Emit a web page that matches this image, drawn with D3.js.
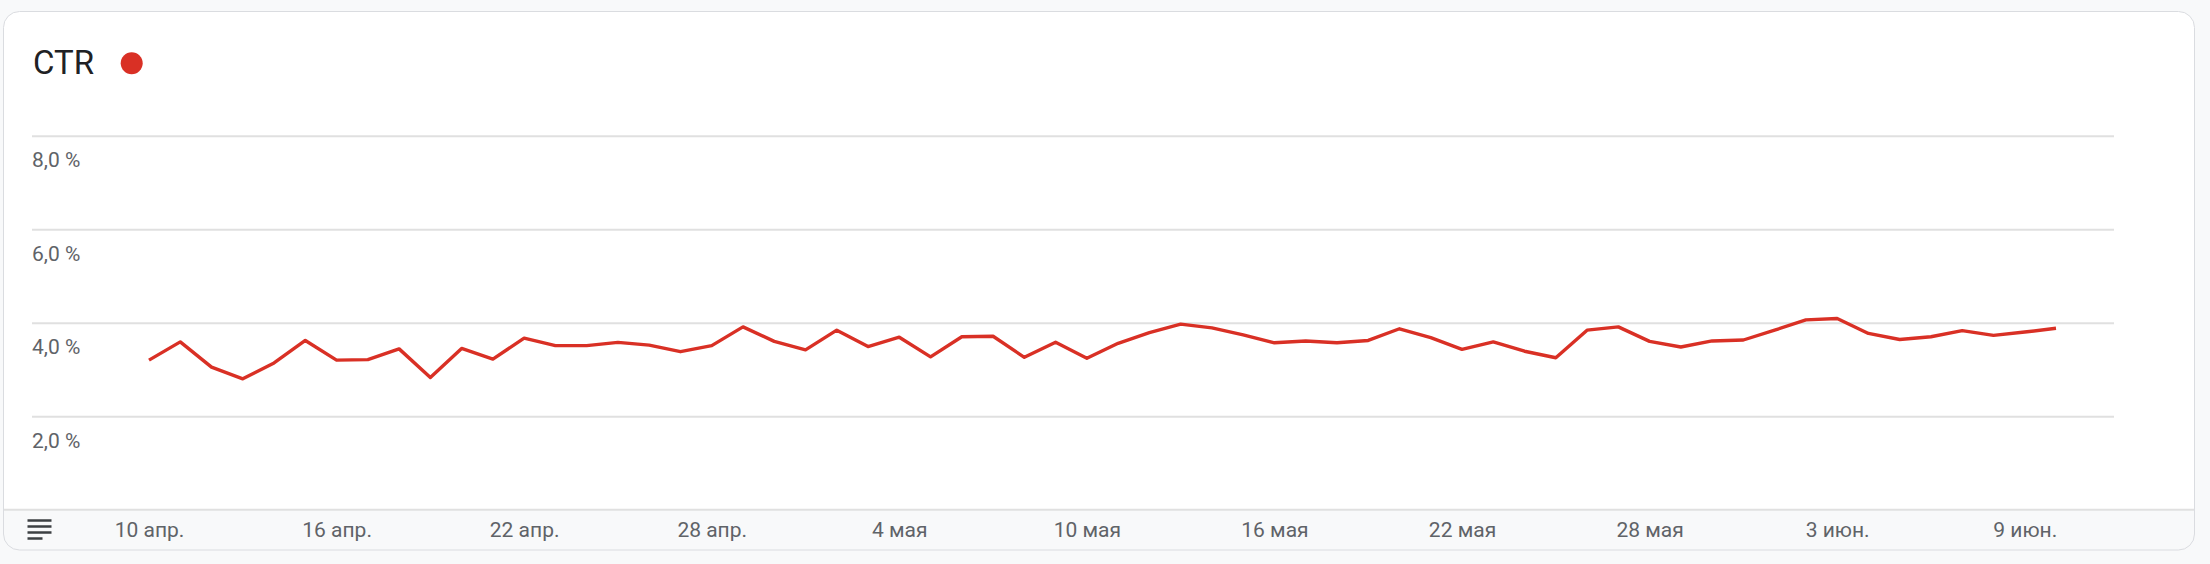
<!DOCTYPE html>
<html>
<head>
<meta charset="utf-8">
<script src="https://cdn.jsdelivr.net/npm/d3@7"></script>
<style>
  html, body { margin: 0; padding: 0; background: #f8f9fa; }
  svg { display: block; font-family: Roboto, "Noto Sans", sans-serif; }
</style>
</head>
<body>
<svg id="chart" width="2210" height="564"></svg>
<script>
// ---- data ----
const startDate = "2023-04-10";
const ctrValues = [
  3.20, 3.59, 3.05, 2.80, 3.14, 3.62, 3.20, 3.21, 3.44, 2.83,
  3.45, 3.22, 3.67, 3.51, 3.51, 3.58, 3.52, 3.38, 3.51, 3.91,
  3.60, 3.42, 3.84, 3.49, 3.69, 3.27, 3.70, 3.71, 3.26, 3.58,
  3.24, 3.56, 3.79, 3.97, 3.89, 3.74, 3.57, 3.61, 3.57, 3.62,
  3.87, 3.68, 3.43, 3.59, 3.39, 3.25, 3.84, 3.91, 3.60, 3.48,
  3.61, 3.63, 3.84, 4.06, 4.09, 3.77, 3.64, 3.70, 3.83, 3.73,
  3.80, 3.88
];
const yTickValues = [2, 4, 6, 8];
const yTickLabels = ["2,0 %", "4,0 %", "6,0 %", "8,0 %"];
const xTickDates = ["2023-04-10", "2023-04-16", "2023-04-22", "2023-04-28", "2023-05-04",
  "2023-05-10", "2023-05-16", "2023-05-22", "2023-05-28", "2023-06-03", "2023-06-09"];
const xTickLabels = ["10 апр.", "16 апр.", "22 апр.", "28 апр.", "4 мая",
  "10 мая", "16 мая", "22 мая", "28 мая", "3 июн.", "9 июн."];
const seriesName = "CTR";

// ---- build ----
const parse = d3.utcParse("%Y-%m-%d");
const t0 = parse(startDate);
const data = ctrValues.map((v, i) => ({ date: d3.utcDay.offset(t0, i), value: v }));

const svg = d3.select("#chart");
const W = 2210, H = 564;
const card = { x: 3.5, y: 11.5, w: 2191, h: 538.5, r: 16 };
const gridLeft = 32, gridRight = 2114;

const x = d3.scaleUtc()
  .domain([data[0].date, data[data.length - 1].date])
  .range([149, 2056]);
const y = d3.scaleLinear().domain([0, 8]).range([509.7, 135.7]);

// card
svg.append("defs").append("clipPath").attr("id", "cardClip")
  .append("rect").attr("x", card.x).attr("y", card.y).attr("width", card.w).attr("height", card.h).attr("rx", card.r);
svg.append("rect").attr("x", card.x).attr("y", card.y).attr("width", card.w).attr("height", card.h)
  .attr("rx", card.r).attr("fill", "#ffffff");
svg.append("rect").attr("clip-path", "url(#cardClip)")
  .attr("x", 0).attr("y", y(0)).attr("width", W).attr("height", H - y(0)).attr("fill", "#f8f9fa");
svg.append("line").attr("x1", card.x).attr("x2", card.x + card.w).attr("y1", y(0)).attr("y2", y(0))
  .attr("stroke", "#e0e0e0").attr("stroke-width", 2);
svg.append("rect").attr("x", card.x).attr("y", card.y).attr("width", card.w).attr("height", card.h)
  .attr("rx", card.r).attr("fill", "none").attr("stroke", "#dadce0").attr("stroke-width", 1);

// title
svg.append("text").attr("x", 33).attr("y", 74).attr("font-size", 33).attr("fill", "#202124").text(seriesName);
svg.append("circle").attr("cx", 131.7).attr("cy", 63.3).attr("r", 11).attr("fill", "#d93025");

// y grid + labels
const yAxis = d3.axisLeft(y).tickValues(yTickValues).tickSize(-(gridRight - gridLeft))
  .tickFormat((d, i) => yTickLabels[i]);
const gy = svg.append("g").attr("transform", `translate(${gridLeft},0)`).call(yAxis);
gy.select(".domain").remove();
gy.selectAll(".tick line").attr("stroke", "#e0e0e0").attr("stroke-width", 2);
gy.selectAll(".tick text").attr("x", 0).attr("dy", 0).attr("y", 31)
  .attr("text-anchor", "start").attr("font-size", 21).attr("fill", "#5f6368")
  .attr("font-family", "Roboto, sans-serif");

// x axis labels
const xAxis = d3.axisBottom(x).tickValues(xTickDates.map(parse)).tickSize(0)
  .tickFormat((d, i) => xTickLabels[i]);
const gx = svg.append("g").attr("transform", `translate(0,${y(0)})`).call(xAxis);
gx.select(".domain").remove();
gx.selectAll(".tick text").attr("y", 27).attr("dy", 0).attr("font-size", 21).attr("fill", "#5f6368")
  .attr("font-family", "Roboto, sans-serif");

// menu icon
const menu = svg.append("g").attr("fill", "#3c4043");
[[520.5, 24], [526.5, 24], [532.5, 24], [538.5, 15]].forEach(([yy, w]) => {
  menu.append("rect").attr("x", 27.5).attr("y", yy - 1.25).attr("width", w).attr("height", 2.5);
});

// line
svg.append("path").datum(data)
  .attr("fill", "none").attr("stroke", "#d93025").attr("stroke-width", 3.4)
  .attr("stroke-linejoin", "round").attr("stroke-linecap", "butt")
  .attr("d", d3.line().x(d => x(d.date)).y(d => y(d.value)));
</script>
</body>
</html>
